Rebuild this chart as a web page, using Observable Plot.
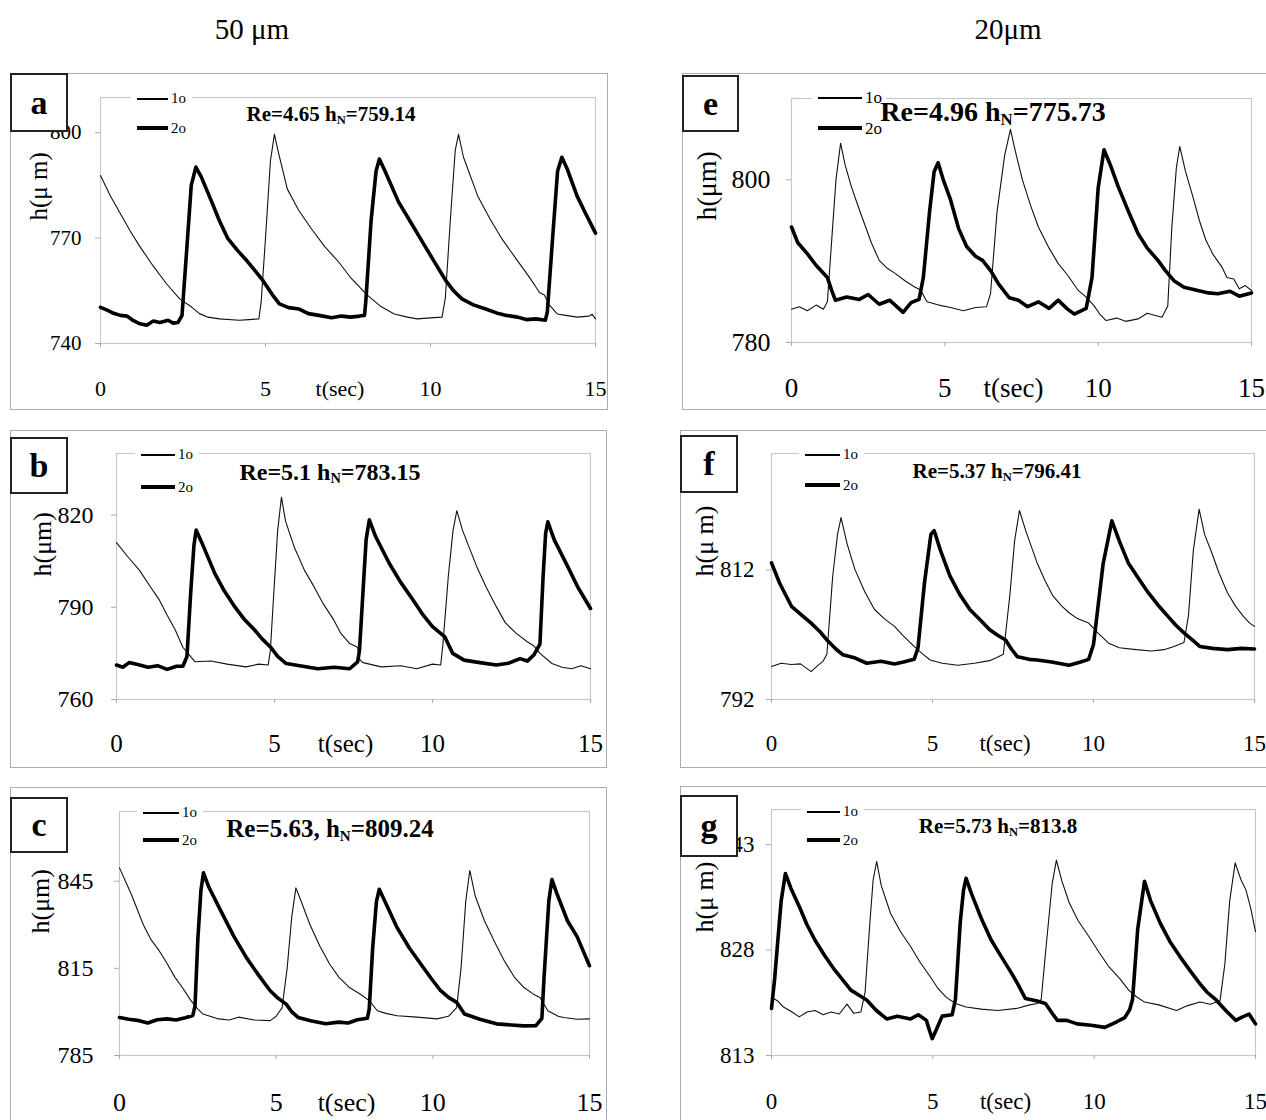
<!DOCTYPE html>
<html><head><meta charset="utf-8">
<script src="https://cdn.jsdelivr.net/npm/d3@7"></script>
<script src="https://cdn.jsdelivr.net/npm/@observablehq/plot@0.6"></script>
<style>
body{margin:0;background:#fff;}
#page{position:relative;width:1266px;height:1120px;overflow:hidden;font-family:"Liberation Serif","Times New Roman",serif;background:#fff;color:#000;}
.frame{position:absolute;border:1px solid #a9adb8;box-sizing:border-box;}
.lbl{position:absolute;border:2px solid #222;background:#fff;box-sizing:border-box;font-weight:bold;display:flex;align-items:center;justify-content:center;}
.coltitle{position:absolute;font-size:29px;transform:translate(-50%,-50%);white-space:nowrap;}
.ann{position:absolute;font-weight:bold;white-space:nowrap;transform:translate(-50%,-50%);}
.ann sub{font-size:0.6em;vertical-align:-0.25em;}
.leg{position:absolute;background:#fff;}
.legline{position:absolute;background:#000;}
.legtxt{position:absolute;white-space:nowrap;line-height:1;}
svg{position:absolute;}
</style>
</head><body><div id="page"></div>
<script>
// ---------- data: [t (sec), h (µm)] ----------
const a_1o = [[0,787.8],[0.3,782],[0.6,777],[0.9,772],[1.2,767.5],[1.6,762],[2.0,757],[2.4,752.7],[2.77,750.3],[3.0,748.5],[3.25,747.5],[3.6,747],[4.2,746.6],[4.5,746.8],[4.8,747],[4.87,752],[5.0,770],[5.15,792],[5.27,799.5],[5.4,794],[5.66,784],[6.0,778],[6.38,772.8],[6.8,767.5],[7.2,763.4],[7.6,758.5],[8.06,754],[8.5,750.5],[8.9,748.4],[9.3,747.5],[9.6,747],[10.0,747.3],[10.35,747.5],[10.45,753],[10.6,775],[10.75,795],[10.85,799.5],[11.0,793],[11.43,782],[11.8,775.5],[12.15,770],[12.6,764],[13.0,758.8],[13.2,756],[13.3,754.5],[13.45,753.8],[13.6,751],[13.84,748.4],[14.1,748],[14.44,747.5],[14.8,747.8],[14.9,748.3],[15,747]];
const a_2o = [[0,750.3],[0.2,749.5],[0.4,748.6],[0.6,748],[0.8,747.8],[1.0,746.5],[1.2,745.6],[1.4,745.2],[1.6,746.4],[1.8,746.0],[2.05,746.6],[2.2,745.8],[2.35,746],[2.47,748],[2.6,765],[2.75,785],[2.89,790.2],[3.05,787.5],[3.37,780.3],[3.6,775],[3.85,770],[4.15,766.5],[4.45,763.4],[4.7,760.5],[4.93,757.8],[5.2,754],[5.42,751.3],[5.7,750.2],[6.02,749.8],[6.3,748.5],[6.62,748],[7.0,747.3],[7.3,747.8],[7.58,747.5],[7.85,747.8],[8.0,748],[8.04,752],[8.2,775],[8.35,789],[8.45,792.5],[8.6,789.5],[9.03,780.3],[9.4,774.5],[9.75,769],[10.1,763.5],[10.47,757.8],[10.7,755],[10.95,752.7],[11.3,751],[11.67,749.8],[12.0,748.7],[12.3,748],[12.64,747.5],[12.9,746.8],[13.2,747],[13.48,746.6],[13.54,749],[13.7,770],[13.85,789],[13.98,793],[14.15,789.5],[14.44,782],[14.7,777],[15,771.4]];

const b_1o = [[0,811],[0.35,806.5],[0.73,802],[1.05,797],[1.36,792.3],[1.6,787.5],[1.86,782.6],[2.1,777],[2.3,774.5],[2.48,772.3],[2.99,772.5],[3.5,771.5],[4.1,770.6],[4.5,771.5],[4.8,771.2],[4.87,776],[4.95,790],[5.1,815],[5.22,825.8],[5.35,818],[5.62,809.7],[5.95,802],[6.25,796.7],[6.55,791],[6.88,785.8],[7.1,781.5],[7.38,778.2],[7.63,777],[7.7,773],[7.8,772],[8.38,770.6],[9.0,771],[9.5,770],[10.0,771.5],[10.26,771.2],[10.33,778],[10.5,800],[10.65,815],[10.77,821.4],[10.95,815],[11.4,803.2],[11.7,796.5],[12.02,790.2],[12.3,785],[12.65,781.5],[13.0,778.8],[13.2,777.5],[13.4,775],[13.78,771.7],[14.1,770.5],[14.4,770],[14.7,771],[15,770]];
const b_2o = [[0,771.2],[0.2,770.5],[0.4,772],[0.73,771.2],[1.0,770.5],[1.3,771],[1.6,769.8],[1.9,770.8],[2.1,770.8],[2.23,774],[2.35,795],[2.45,810],[2.52,815.1],[2.7,811],[3.11,801],[3.4,795.5],[3.74,790.2],[4.05,786],[4.37,782.6],[4.6,779.8],[4.87,777.1],[5.1,774],[5.37,771.7],[5.8,771],[6.37,770],[6.9,770.5],[7.38,770],[7.63,772.2],[7.69,776],[7.8,795],[7.9,812],[8.0,818.4],[8.2,813],[8.63,804.3],[9.0,798],[9.39,792.3],[9.7,787.5],[10.0,783.7],[10.39,780.4],[10.5,778],[10.64,775],[11.0,772.8],[11.5,772],[12.02,771.2],[12.4,771.8],[12.77,773.3],[13.0,772.5],[13.21,774.5],[13.4,778],[13.5,800],[13.58,814],[13.65,817.8],[13.85,812],[14.28,803.2],[14.6,796.5],[15,789.6]];

const c_1o = [[0,849.6],[0.38,840.4],[0.76,830],[1.0,825],[1.27,821],[1.5,817],[1.77,811.9],[2.0,808.5],[2.28,803.9],[2.5,801],[2.66,799.3],[3.16,797.6],[3.5,797.2],[3.8,798.2],[4.3,797.2],[4.81,797],[5.0,798.5],[5.19,801.5],[5.35,815],[5.5,833],[5.63,842.7],[5.8,838],[6.08,830],[6.4,822.5],[6.71,816.4],[7.0,812],[7.34,808.4],[7.7,806],[7.97,803.9],[8.23,800.4],[8.5,799.5],[8.86,798.7],[9.5,798.2],[10.13,797.6],[10.5,798.5],[10.76,801.5],[10.9,815],[11.05,838],[11.18,848.7],[11.35,840],[11.65,831.3],[12.0,823.5],[12.28,817.6],[12.6,812],[12.91,808.4],[13.2,806.2],[13.42,805],[13.67,800.4],[14.0,798.5],[14.18,798.1],[14.6,797.5],[15,797.6]];
const c_2o = [[0,798.1],[0.3,797.5],[0.63,797],[0.9,796.2],[1.2,797.3],[1.52,797.6],[1.8,797.2],[2.1,798],[2.34,798.8],[2.41,802],[2.5,825],[2.6,842],[2.68,847.9],[2.85,843],[3.29,833.6],[3.65,826],[4.05,818.7],[4.45,812.5],[4.81,807.3],[5.05,804.8],[5.32,802.7],[5.5,800],[5.7,798.1],[6.1,797],[6.58,795.9],[7.0,796.5],[7.3,796.2],[7.59,797.3],[7.91,797.8],[7.97,801],[8.08,822],[8.2,838],[8.29,842.2],[8.45,838.5],[8.86,829],[9.25,822],[9.62,816.4],[9.95,811.5],[10.25,807.3],[10.5,805],[10.76,803.3],[11.01,799.3],[11.5,797.5],[12.03,795.9],[12.5,795.5],[12.9,795.2],[13.29,795.3],[13.48,797.8],[13.55,812],[13.7,838],[13.8,845.6],[13.95,841],[14.3,831.3],[14.6,826],[15,815.9]];

const e_1o = [[0,784.1],[0.25,784.4],[0.52,783.9],[0.8,784.6],[1.04,784.1],[1.17,785],[1.3,792],[1.45,800],[1.6,804.5],[1.75,801.8],[1.95,799.2],[2.15,797],[2.34,795],[2.6,792.3],[2.86,790.1],[3.1,789.2],[3.38,788.5],[3.7,787.6],[4.03,786.8],[4.2,786.5],[4.42,785],[4.8,784.6],[5.19,784.3],[5.6,783.9],[6.0,784.3],[6.36,784.4],[6.49,786],[6.7,796],[6.95,803],[7.14,806.2],[7.3,803.5],[7.53,800],[7.8,796.8],[8.05,794.2],[8.4,791.6],[8.7,789.7],[9.0,788.3],[9.35,786.4],[9.6,785.6],[9.87,784.5],[10.05,783.5],[10.26,782.7],[10.6,783],[10.9,782.6],[11.3,782.9],[11.6,783.6],[12.08,783.1],[12.27,784.5],[12.4,794],[12.55,801.5],[12.66,804.1],[12.85,801],[13.12,797.5],[13.3,795],[13.51,792.6],[13.75,790.8],[14.03,789.3],[14.2,788],[14.42,787.8],[14.6,786.6],[14.8,787],[15,786.4]];
const e_2o = [[0,794.2],[0.2,792.3],[0.52,790.9],[0.8,789.5],[1.17,788],[1.3,786.5],[1.43,785.2],[1.8,785.6],[2.21,785.3],[2.5,785.9],[2.86,784.7],[3.2,785.2],[3.64,783.7],[3.9,784.9],[4.16,785.3],[4.3,788],[4.5,796],[4.65,801],[4.78,802.1],[4.95,800],[5.19,797.5],[5.45,794],[5.71,791.8],[6.0,790.6],[6.23,790.1],[6.5,788.8],[6.75,787.2],[7.1,785.5],[7.4,785.2],[7.7,784.4],[8.05,785],[8.4,784.2],[8.7,785.2],[9.0,784.1],[9.22,783.5],[9.61,784.2],[9.8,788],[10.0,799],[10.19,803.7],[10.4,801.8],[10.65,799.2],[11.0,796],[11.3,793.4],[11.6,791.6],[11.95,790.1],[12.2,788.8],[12.47,787.6],[12.8,786.8],[13.25,786.4],[13.6,786.1],[13.9,786],[14.3,786.3],[14.6,785.7],[15,786.1]];

const f_1o = [[0,797.1],[0.3,797.6],[0.62,797.4],[0.9,797.5],[1.23,796.3],[1.45,797.3],[1.6,797.9],[1.72,799],[1.9,811],[2.05,817.5],[2.16,820.1],[2.35,816],[2.59,812.1],[2.9,808.6],[3.2,805.9],[3.5,804.5],[3.82,803.3],[4.1,801.8],[4.43,800.2],[4.7,799],[4.93,798.1],[5.3,797.6],[5.79,797.3],[6.3,797.6],[6.77,798],[7.0,798.5],[7.2,799],[7.4,808],[7.55,816.5],[7.7,821.2],[7.9,818],[8.25,813.1],[8.5,810.3],[8.74,808],[9.0,806.5],[9.24,805.4],[9.5,804.5],[9.85,803.8],[10.15,802.2],[10.47,800.7],[10.8,800],[11.33,799.7],[11.8,799.5],[12.19,799.7],[12.5,800.2],[12.81,800.8],[12.95,805],[13.1,815],[13.28,821.4],[13.45,817.5],[13.67,814.7],[13.9,811.5],[14.16,808.5],[14.4,806.5],[14.66,804.8],[14.85,803.8],[15,803.3]];
const f_2o = [[0,813.1],[0.25,810],[0.62,806.4],[0.9,805.2],[1.23,803.8],[1.5,802.5],[1.72,801.2],[2.0,799.8],[2.22,798.9],[2.6,798.4],[2.96,797.6],[3.4,797.9],[3.82,797.5],[4.1,797.8],[4.43,798.2],[4.55,800],[4.75,810],[4.95,817.5],[5.05,818.1],[5.25,815],[5.54,811.1],[5.85,808.2],[6.16,805.9],[6.5,804.2],[6.77,802.8],[7.0,802],[7.27,801.2],[7.45,799.8],[7.64,798.6],[8.0,798.2],[8.25,798.1],[8.7,797.8],[9.24,797.3],[9.6,797.8],[9.85,798.2],[10.0,800.5],[10.3,813],[10.57,819.6],[10.8,816.5],[11.08,813.1],[11.4,810.7],[11.7,808.5],[12.0,806.6],[12.32,804.8],[12.55,803.5],[12.81,802.3],[13.05,801.3],[13.3,800.2],[13.7,799.9],[14.16,799.7],[14.6,799.9],[15,799.8]];

const g_1o = [[0,821.3],[0.18,820.8],[0.37,819.9],[0.6,819.3],[0.86,818.5],[1.1,819.2],[1.35,819.4],[1.6,818.8],[1.85,819.2],[2.1,818.9],[2.34,820.3],[2.55,819],[2.77,819.2],[2.9,822],[3.05,832],[3.15,838],[3.26,840.6],[3.4,837.2],[3.69,833.2],[4.0,830.6],[4.31,828.5],[4.6,826.3],[4.92,824.2],[5.15,822.6],[5.41,821.3],[5.7,820.4],[6.03,819.9],[6.5,819.6],[7.01,819.4],[7.6,819.7],[8.0,820.2],[8.24,820.4],[8.36,821],[8.5,828],[8.7,837.5],[8.83,840.8],[9.0,837.8],[9.23,834.7],[9.5,832.2],[9.84,829.9],[10.15,827.7],[10.46,825.6],[10.8,823.9],[11.07,822.3],[11.3,821.4],[11.56,820.6],[12.0,820.2],[12.55,819.4],[12.9,820.1],[13.28,820.6],[13.6,820.3],[13.9,820.8],[14.05,826],[14.2,835],[14.37,840.4],[14.55,838],[14.7,836.6],[14.85,834],[15,830.6]];
const g_2o = [[0,819.7],[0.1,824],[0.18,828.5],[0.3,835],[0.43,838.9],[0.6,836.8],[0.86,834.2],[1.1,831.6],[1.35,829.4],[1.65,827.2],[1.97,825.1],[2.2,823.8],[2.46,822.3],[2.7,821.6],[2.95,820.9],[3.25,819.4],[3.57,818.2],[3.9,818.6],[4.31,818.2],[4.55,818.8],[4.8,818.0],[4.9,816.5],[4.98,815.4],[5.1,816.6],[5.29,818.6],[5.6,818.8],[5.7,821],[5.85,832],[5.95,836.5],[6.03,838.2],[6.2,836],[6.52,832.3],[6.8,829.5],[7.13,827],[7.4,825],[7.63,823.2],[7.87,821.1],[8.2,820.8],[8.49,820.4],[8.7,819],[8.86,818],[9.15,818],[9.47,817.5],[9.9,817.3],[10.33,817],[10.7,817.8],[10.95,818.4],[11.1,819.5],[11.19,821],[11.35,831],[11.56,837.8],[11.75,835],[12.05,831.8],[12.35,829.2],[12.67,827],[13.0,824.9],[13.28,823.2],[13.5,822],[13.78,820.9],[14.1,819.3],[14.39,818],[14.6,818.5],[14.8,818.9],[15,817.5]];

// axis tick values and texts
const xTicks = [0, 5, 10, 15];
const a_yTicks = [740, 770, 800], b_yTicks = [760, 790, 820], c_yTicks = [785, 815, 845];
const e_yTicks = [780, 800], f_yTicks = [792, 812], g_yTicks = [813, 828, 843];
const a_yDom = [740, 810], b_yDom = [760, 840], c_yDom = [785, 869];
const e_yDom = [780, 810], f_yDom = [792, 830], g_yDom = [813, 848];
const annotations = {
  a: "Re=4.65 h<sub>N</sub>=759.14", b: "Re=5.1 h<sub>N</sub>=783.15", c: "Re=5.63, h<sub>N</sub>=809.24",
  e: "Re=4.96 h<sub>N</sub>=775.73", f: "Re=5.37 h<sub>N</sub>=796.41", g: "Re=5.73 h<sub>N</sub>=813.8"
};
const columnTitles = ["50 μm", "20μm"];
const seriesNames = ["1o", "2o"];

// ---------- layout (positions & styles) ----------
const panels = [
  {id:"a", s1:a_1o, s2:a_2o, yDom:a_yDom, yTicks:a_yTicks, yLabel:"h(μ m)",
   frame:[10,73,598,337], plot:[100,97,595,343], yFont:21, yGap:19, xFont:22, xPad:32.5, yLabOff:62, yLabFont:25,
   box:[10,73,58,59], boxFont:34, ann:[331,115,21], leg:[137,99,128,31,15]},
  {id:"b", s1:b_1o, s2:b_2o, yDom:b_yDom, yTicks:b_yTicks, yLabel:"h(μm)",
   frame:[10,430,597,338], plot:[116,453,590,699], yFont:24, yGap:23, xFont:25, xPad:30.5, yLabOff:74, yLabFont:26,
   box:[10,437,58,57], boxFont:34, ann:[330,473,24], leg:[141,455,487,34,15]},
  {id:"c", s1:c_1o, s2:c_2o, yDom:c_yDom, yTicks:c_yTicks, yLabel:"h(μm)",
   frame:[10,787,597,338], plot:[119,811,589,1055], yFont:24, yGap:26, xFont:26, xPad:33, yLabOff:79, yLabFont:26,
   box:[10,797,58,56], boxFont:34, ann:[330,830,25], leg:[143,813,840,36,15]},
  {id:"e", s1:e_1o, s2:e_2o, yDom:e_yDom, yTicks:e_yTicks, yLabel:"h(μm)",
   frame:[682,73,620,337], plot:[791,98,1251,342], yFont:26, yGap:21, xFont:27, xPad:31.5, yLabOff:84, yLabFont:28,
   box:[682,75,57,57], boxFont:34, ann:[993,113,28], leg:[818,98,128,44,17]},
  {id:"f", s1:f_1o, s2:f_2o, yDom:f_yDom, yTicks:f_yTicks, yLabel:"h(μ m)",
   frame:[680,430,620,338], plot:[771,453,1254,699], yFont:23, yGap:17, xFont:23, xPad:31.3, yLabOff:67, yLabFont:26,
   box:[680,435,58,58], boxFont:34, ann:[997,472,21], leg:[805,455,485,35,15]},
  {id:"g", s1:g_1o, s2:g_2o, yDom:g_yDom, yTicks:g_yTicks, yLabel:"h(μ m)",
   frame:[680,786,620,339], plot:[771,809,1255,1055], yFont:23, yGap:17, xFont:23, xPad:33.3, yLabOff:67, yLabFont:26,
   box:[680,795,58,62], boxFont:34, ann:[998,827,21], leg:[807,812,840,33,15]}
];

const page = document.getElementById("page");
function el(cls, css, html){ const d=document.createElement("div"); d.className=cls; Object.assign(d.style, css); if(html!=null) d.innerHTML=html; page.appendChild(d); return d; }

el("coltitle", {left:"252px", top:"29px"}, columnTitles[0]);
el("coltitle", {left:"1008px", top:"29px"}, columnTitles[1]);

for (const p of panels) {
  const [fx,fy,fw,fh] = p.frame;
  const [x0,y0,x1,y1] = p.plot;
  el("frame", {left:fx+"px", top:fy+"px", width:fw+"px", height:fh+"px"});
  const chart = Plot.plot({
    width: fw, height: fh,
    marginLeft: x0-fx, marginTop: y0-fy, marginRight: fx+fw-x1, marginBottom: fy+fh-y1,
    style: {fontFamily:"Liberation Serif, Times New Roman, serif", background:"transparent", overflow:"visible", color:"#000"},
    x: {domain:[0,15]},
    y: {domain:p.yDom},
    marks: [
      Plot.frame({stroke:"#c6c8cc", strokeWidth:1.2}),
      Plot.axisY({ticks:p.yTicks, tickSize:5, tickPadding:p.yGap-5, fontSize:p.yFont, stroke:"#aaa", fill:"#000", label:null, tickFormat:d=>String(d)}),
      Plot.axisX({ticks:xTicks, tickSize:4, tickPadding:p.xPad, fontSize:p.xFont, stroke:"#aaa", fill:"#000", label:null, tickFormat:d=>String(d)}),
      Plot.text(["t(sec)"], {text:d=>d, frameAnchor:"bottom", dy:4+p.xPad, dx:-8, lineAnchor:"top", fontSize:p.xFont, fill:"#000"}),
      Plot.text([p.yLabel], {text:d=>d, frameAnchor:"left", rotate:-90, dx:-p.yLabOff, fontSize:p.yLabFont, fill:"#000"}),
      Plot.line(p.s1, {x:d=>d[0], y:d=>d[1], stroke:"#111", strokeWidth:1.1}),
      Plot.line(p.s2, {x:d=>d[0], y:d=>d[1], stroke:"#000", strokeWidth:3.6, strokeLinejoin:"round"})
    ]
  });
  chart.style.left = fx+"px"; chart.style.top = fy+"px";
  page.appendChild(chart);

  // legend
  const [lx,ly1,ly2,llen,lfs] = p.leg;
  el("leg", {left:(lx-6)+"px", top:(ly1-7)+"px", width:(llen+30)+"px", height:(ly2-ly1+14)+"px"});
  el("legline", {left:lx+"px", top:(ly1-0.6)+"px", width:llen+"px", height:"1.2px"});
  el("legline", {left:lx+"px", top:(ly2-2)+"px", width:llen+"px", height:"4px"});
  el("legtxt", {left:(lx+llen+3)+"px", top:(ly1-lfs*0.55)+"px", fontSize:lfs+"px"}, seriesNames[0]);
  el("legtxt", {left:(lx+llen+3)+"px", top:(ly2-lfs*0.45)+"px", fontSize:lfs+"px"}, seriesNames[1]);

  // annotation
  const [ax,ay,afs] = p.ann;
  el("ann", {left:ax+"px", top:ay+"px", fontSize:afs+"px"}, annotations[p.id]);

  // panel letter box
  const [bx,by,bw,bh] = p.box;
  el("lbl", {left:bx+"px", top:by+"px", width:bw+"px", height:bh+"px", fontSize:p.boxFont+"px"}, p.id);
}
</script>
</body></html>
